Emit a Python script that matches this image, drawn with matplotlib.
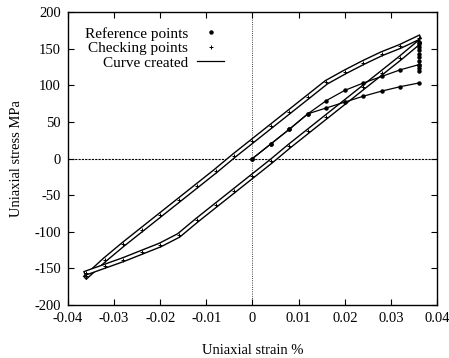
import matplotlib
matplotlib.use("Agg")
import matplotlib.pyplot as plt
from matplotlib.lines import Line2D

plt.rcParams['font.family'] = ['Liberation Serif', 'DejaVu Serif']
plt.rcParams['axes.unicode_minus'] = False

# upper branch of the loop (unloading from the tension tip)
upper_strain = [0.036, 0.032, 0.028, 0.024, 0.020, 0.016, 0.012, 0.008, 0.004, 0.0,
                -0.004, -0.008, -0.012, -0.016, -0.020, -0.024, -0.028, -0.032, -0.036]
upper_stress = [165, 153, 143, 131, 118, 104, 84, 64, 44, 24,
                4, -17, -37, -57, -77, -97, -117, -138, -161]

# lower branch of the loop (reloading from the compression tip)
lower_strain = [-0.036, -0.032, -0.028, -0.024, -0.020, -0.016, -0.012, -0.008, -0.004, 0.0,
                0.004, 0.008, 0.012, 0.016, 0.020, 0.024, 0.028, 0.032, 0.036]
lower_stress = [-156, -147, -138, -128, -118, -105, -84, -64, -44, -24,
                -4, 17, 37, 57, 77, 97, 117, 137, 158]

# first loading curves from the origin
first_strain = [0.0, 0.004, 0.008, 0.012, 0.016, 0.020, 0.024, 0.028, 0.032, 0.036]
first_a_stress = [0, 20, 40, 61, 79, 93, 103, 112, 121, 128]
first_b_stress = [0, 20, 40, 61, 69, 77, 85, 92, 98, 103]

# points stacked at the strain limit
tip_strain = [0.036] * 10
tip_stress = [119, 123, 128, 133, 138, 143, 148, 152, 156, 159]

fig = plt.figure(figsize=(4.49, 3.58), dpi=100)
ax = fig.add_axes([0.1514, 0.148, 0.8219, 0.8185])

# zero axes
ax.axhline(0, color='black', lw=0.8, ls=(0, (2, 1)))
ax.axvline(0, color='black', lw=0.6, ls=':')

# double-line look of the loop branches
for xs, ys in [(upper_strain, upper_stress), (lower_strain, lower_stress)]:
    ax.plot(xs, ys, color='black', lw=3.8, solid_joinstyle='miter')
    ax.plot(xs, ys, color='white', lw=1.8, solid_joinstyle='miter')
    ax.plot(xs, ys, ls='none', marker='+', ms=3, mew=0.7, color='black')

ax.plot(first_strain, first_a_stress, color='black', lw=0.9, marker='o', ms=2.2)
ax.plot(first_strain, first_b_stress, color='black', lw=0.9, marker='o', ms=2.2)
ax.plot(tip_strain, tip_stress, ls='none', color='black', marker='o', ms=2.2)

ax.set_xlim(-0.04, 0.04)
ax.set_ylim(-200, 200)
ax.set_xticks([-0.04, -0.03, -0.02, -0.01, 0, 0.01, 0.02, 0.03, 0.04])
ax.set_xticklabels(['-0.04', '-0.03', '-0.02', '-0.01', '0', '0.01', '0.02', '0.03', '0.04'])
ax.set_yticks([-200, -150, -100, -50, 0, 50, 100, 150, 200])
ax.tick_params(direction='in', top=True, right=True, length=4, width=0.8,
               labelsize=10.5, pad=5)
for s in ax.spines.values():
    s.set_linewidth(1.0)

ax.set_xlabel('Uniaxial strain %', fontsize=10.5, labelpad=14)
ax.set_ylabel('Uniaxial stress MPa', fontsize=10.5, labelpad=8)

handles = [
    Line2D([], [], ls='none', marker='o', ms=2.2, color='black'),
    Line2D([], [], ls='none', marker='+', ms=3.5, mew=0.7, color='black'),
    Line2D([], [], color='black', lw=0.9),
]
labels = ['Reference points', 'Checking points', 'Curve created']
ax.legend(handles, labels, loc='upper left', bbox_to_anchor=(0.02, 0.98),
          frameon=False, markerfirst=False, fontsize=11, handlelength=1.8,
          handletextpad=0.6, labelspacing=0.05, borderaxespad=0.2)

fig.savefig('out.png', dpi=100)
